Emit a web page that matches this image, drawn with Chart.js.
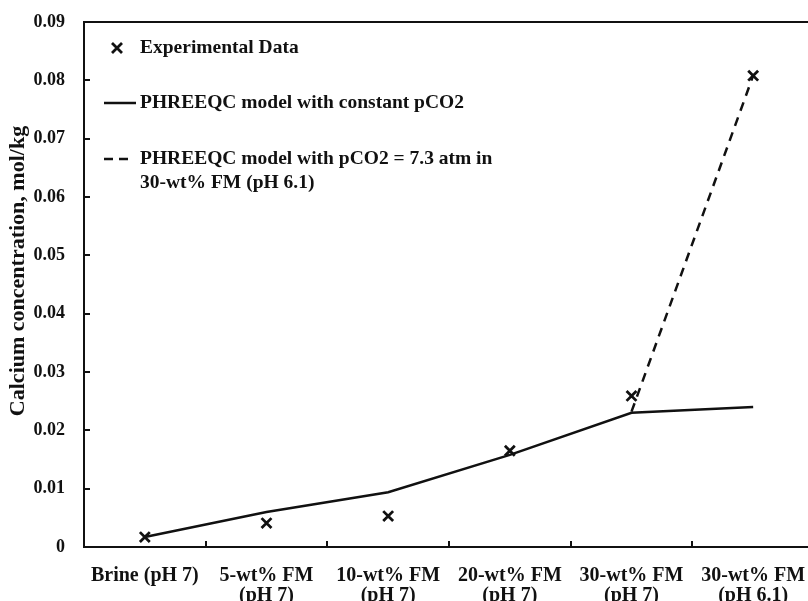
<!DOCTYPE html>
<html>
<head>
<meta charset="utf-8">
<script src="https://cdn.jsdelivr.net/npm/chart.js@4.4.0/dist/chart.umd.min.js"></script>
<style>
  html, body { margin: 0; padding: 0; background: #fff; overflow: hidden; }
  canvas { display: block; }
</style>
</head>
<body>
<canvas id="chart" width="814" height="601"></canvas>
<script>
const categories = [
  'Brine (pH 7)',
  ['5-wt% FM', '(pH 7)'],
  ['10-wt% FM', '(pH 7)'],
  ['20-wt% FM', '(pH 7)'],
  ['30-wt% FM', '(pH 7)'],
  ['30-wt% FM', '(pH 6.1)']
];
const experimental = [0.0017, 0.0041, 0.0053, 0.0165, 0.0259, 0.0808];
const modelConstant = [0.0017, 0.0060, 0.0094, 0.0158, 0.0230, 0.0240];
const modelHighCO2 = [null, null, null, null, 0.0232, 0.0808];
const yTicks = [0, 0.01, 0.02, 0.03, 0.04, 0.05, 0.06, 0.07, 0.08, 0.09];

const legendText = [
  ['Experimental Data'],
  ['PHREEQC model with constant pCO2'],
  ['PHREEQC model with pCO2 = 7.3 atm in', '30-wt% FM (pH 6.1)']
];
const yTitle = 'Calcium concentration, mol/kg';

const SERIF = '"Liberation Serif", "Times New Roman", serif';
const INK = '#111';

// frame top edge, inward tick marks, axis title and the in-plot legend
const frameAndLegend = {
  id: 'frameAndLegend',
  afterDraw(chart) {
    const { ctx, chartArea: a, scales: { x, y } } = chart;
    ctx.save();
    ctx.strokeStyle = INK;
    ctx.lineWidth = 2;
    ctx.beginPath();
    ctx.moveTo(a.left, a.top);
    ctx.lineTo(a.right, a.top);
    yTicks.forEach(v => {
      if (v <= y.min || v >= y.max) return;
      const py = Math.round(y.getPixelForValue(v));
      ctx.moveTo(a.left, py);
      ctx.lineTo(a.left + 6, py);
    });
    for (let i = 1; i < categories.length; i++) {
      const px = Math.round((x.getPixelForValue(i - 1) + x.getPixelForValue(i)) / 2);
      ctx.moveTo(px, a.bottom);
      ctx.lineTo(px, a.bottom - 6);
    }
    ctx.stroke();

    // y axis title
    ctx.fillStyle = INK;
    ctx.font = 'bold 22px ' + SERIF;
    ctx.textAlign = 'center';
    ctx.textBaseline = 'middle';
    ctx.save();
    ctx.translate(18, 271);
    ctx.rotate(-Math.PI / 2);
    ctx.fillText(yTitle, 0, 0);
    ctx.restore();

    // legend
    const rows = [26, 81, 137];
    const textX = a.left + 56;
    ctx.font = 'bold 19.5px ' + SERIF;
    ctx.textAlign = 'left';

    // cross marker
    const cx = a.left + 33, cy = a.top + rows[0], r = 5;
    ctx.lineWidth = 2.8;
    ctx.beginPath();
    ctx.moveTo(cx - r, cy - r); ctx.lineTo(cx + r, cy + r);
    ctx.moveTo(cx + r, cy - r); ctx.lineTo(cx - r, cy + r);
    ctx.stroke();

    // solid line sample
    ctx.lineWidth = 2.5;
    ctx.beginPath();
    ctx.moveTo(a.left + 20, a.top + rows[1]);
    ctx.lineTo(a.left + 52, a.top + rows[1]);
    ctx.stroke();

    // dashed line sample
    ctx.setLineDash([9, 6]);
    ctx.beginPath();
    ctx.moveTo(a.left + 20, a.top + rows[2]);
    ctx.lineTo(a.left + 50, a.top + rows[2]);
    ctx.stroke();
    ctx.setLineDash([]);

    legendText.forEach((lines, i) => {
      lines.forEach((t, j) => {
        ctx.fillText(t, textX, a.top + rows[i] + j * 24);
      });
    });
    ctx.restore();
  }
};

const context = document.getElementById('chart').getContext('2d');
new Chart(context, {
  type: 'line',
  data: {
    labels: categories,
    datasets: [
      {
        label: 'Experimental Data',
        data: experimental,
        showLine: false,
        pointStyle: 'crossRot',
        pointRadius: 7,
        pointBorderWidth: 2.8,
        borderColor: INK,
        backgroundColor: INK
      },
      {
        label: 'PHREEQC model with constant pCO2',
        data: modelConstant,
        borderColor: INK,
        borderWidth: 2.5,
        pointRadius: 0,
        tension: 0
      },
      {
        label: 'PHREEQC model with pCO2 = 7.3 atm in 30-wt% FM (pH 6.1)',
        data: modelHighCO2,
        borderColor: INK,
        borderWidth: 2.5,
        borderDash: [9, 7],
        pointRadius: 0,
        tension: 0
      }
    ]
  },
  options: {
    responsive: false,
    animation: false,
    layout: { autoPadding: false, padding: { top: 22, right: 0, left: 0, bottom: 0 } },
    plugins: {
      legend: { display: false },
      tooltip: { enabled: false }
    },
    scales: {
      x: {
        offset: true,
        grid: { display: false, drawTicks: false },
        border: { display: true, color: INK, width: 2 },
        ticks: {
          color: INK,
          font: { family: SERIF, size: 20, weight: 'bold', lineHeight: 1.0 },
          padding: 19,
          maxRotation: 0,
          autoSkip: false
        },
        afterFit(scale) {
          scale.height = 54;
          scale.paddingLeft = 0;
          scale.paddingRight = 0;
        }
      },
      y: {
        min: 0,
        max: 0.09,
        afterBuildTicks(scale) { scale.ticks = yTicks.map(v => ({ value: v })); },
        grid: { display: false, drawTicks: false },
        border: { display: true, color: INK, width: 2 },
        ticks: {
          color: INK,
          font: { family: SERIF, size: 18, weight: 'bold' },
          padding: 19,
          callback: v => (v === 0 ? '0' : v.toFixed(2))
        },
        afterFit(scale) {
          scale.width = 84;
          scale.paddingTop = 0;
          scale.paddingBottom = 0;
        }
      }
    }
  },
  plugins: [frameAndLegend]
});
</script>
</body>
</html>
